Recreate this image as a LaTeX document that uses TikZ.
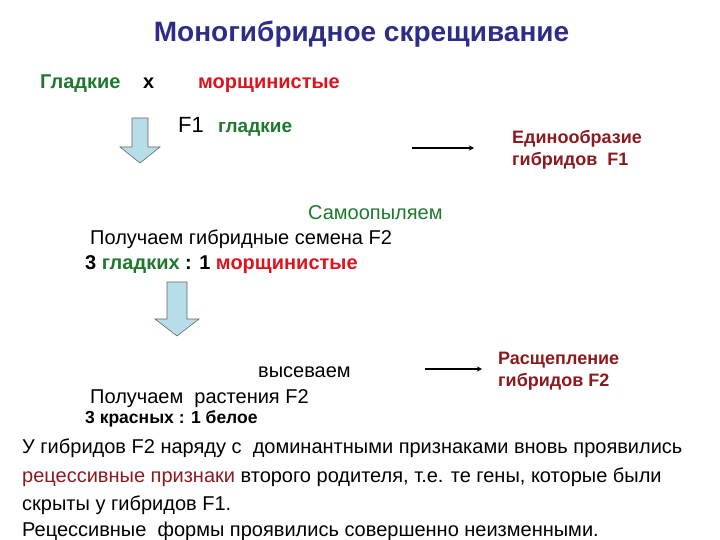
\documentclass[tikz,border=0pt]{standalone}
\usepackage{fontspec}
\setmainfont{Liberation Sans}
\usepackage{tikz}
\usetikzlibrary{arrows, positioning, calc}

\definecolor{titleblue}{RGB}{45,45,135}
\definecolor{leafgreen}{RGB}{30,120,45}
\definecolor{wrinkred}{RGB}{220,20,30}
\definecolor{darkred}{RGB}{140,25,30}
\definecolor{arrowblue}{RGB}{183,221,232}

\begin{document}
\begin{tikzpicture}[
    x=1pt, y=-1pt,
    txt/.style={anchor=base west, inner sep=0pt, font=\fontsize{20}{24}\selectfont},
    bld/.style={anchor=base west, inner sep=0pt, font=\fontsize{20}{24}\selectfont\bfseries},
    note/.style={anchor=west, inner sep=0pt, align=left, text=darkred, font=\fontsize{18}{22}\selectfont\bfseries},
    blockarr/.style={fill=arrowblue, draw=black!60, line width=0.6pt},
    arrow/.style={->, >=stealth, line width=1.3pt}
]
\useasboundingbox (0,0) rectangle (720,540);

% Заголовок
\node[anchor=base, inner sep=0pt, text=titleblue, font=\fontsize{28}{33}\selectfont\bfseries] (title) at (361.5,42) {Моногибридное скрещивание};

% Родители
\node[bld, text=leafgreen] (smooth) at (40,89) {Гладкие};
\node[bld] (cross) at (143,89) {x};
\node[bld, text=wrinkred] (wrinkled) at (198,89) {морщинистые};

% F1
\draw[blockarr] (132,118) -- (148,118) -- (148,147) -- (160,147) -- (140,163) -- (120,147) -- (132,147) -- cycle;
\node[anchor=base west, inner sep=0pt, font=\fontsize{22}{26}\selectfont] (f1) at (178,133) {F1};
\node[anchor=base west, inner sep=0pt, text=leafgreen, font=\fontsize{19}{23}\selectfont\bfseries] (f1smooth) at (218,133) {гладкие};
\node[note] (uniform) at (512,150) {Единообразие\\гибридов~ F1};
\coordinate (a1s) at (412,148);
\coordinate (a1e) at (474,148);

% F2
\node[txt, text=leafgreen] (selfpol) at (308,219) {Самоопыляем};
\node[txt] (seeds) at (90,244) {Получаем гибридные семена F2};
\node[bld] (ratio1) at (85,269) {3 \textcolor{leafgreen}{гладких} : 1 \textcolor{wrinkred}{морщинистые}};

\draw[blockarr] (167,282) -- (187,282) -- (187,319) -- (199,319) -- (177,336) -- (155,319) -- (167,319) -- cycle;

\node[txt] (sow) at (258,377) {высеваем};
\node[note] (split) at (498,371) {Расщепление\\гибридов F2};
\coordinate (a2s) at (425,369);
\coordinate (a2e) at (482,369);
\node[txt] (plants) at (90,403) {Получаем~~растения F2};
\node[anchor=base west, inner sep=0pt, font=\fontsize{17.5}{20}\selectfont\bfseries] (ratio2) at (85,423) {3 красных : 1 белое};

% Вывод
\node[txt] (l1) at (22,453) {У гибридов F2 наряду с~~доминантными признаками вновь проявились};
\node[txt] (l2) at (22,482) {\textcolor{darkred}{рецессивные признаки} второго родителя, т.е. те гены, которые были};
\node[txt] (l3) at (22,510) {скрыты у гибридов F1.};
\node[txt] (l4) at (22,536) {Рецессивные~~формы проявились совершенно неизменными.};

% Стрелки
\draw[arrow] (a1s) -- (a1e);
\draw[arrow] (a2s) -- (a2e);

\end{tikzpicture}
\end{document}
